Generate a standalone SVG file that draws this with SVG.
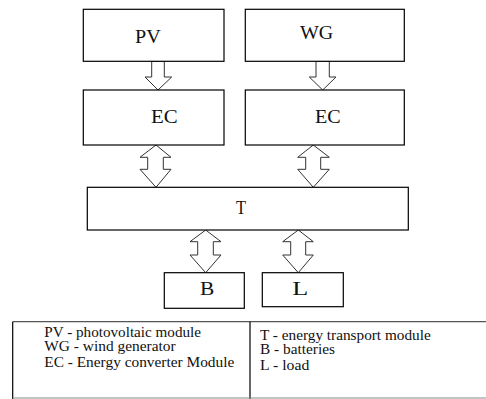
<svg xmlns="http://www.w3.org/2000/svg" width="486" height="399" viewBox="0 0 486 399">
<style>
.box{fill:#fff;stroke:#000;stroke-width:1.2}
.arr{fill:#fff;stroke:#333;stroke-width:1}
.lbl{font-family:"Liberation Serif","Times New Roman",serif;font-size:18px;fill:#111}
.leg{font-family:"Liberation Serif","Times New Roman",serif;font-size:14px;fill:#111}
</style>
<rect width="486" height="399" fill="#fff"/>
<g id="connectors">
<polygon class="arr" points="151.7,61.3 164.3,61.3 164.3,77 171.7,77 158,90 145,77 151.7,77"/>
<polygon class="arr" points="316,61.3 329.3,61.3 329.3,77 336,77 322.7,90 309.3,77 316,77"/>
<polygon class="arr" points="156,145 171,157.3 163.3,157.3 163.3,169.3 171,169.3 156,187.3 140,169.3 147.7,169.3 147.7,157.3 140,157.3"/>
<polygon class="arr" points="313.3,145 329.3,157.3 320.7,157.3 320.7,169.3 329.3,169.3 313.3,187.3 297.7,169.3 305.7,169.3 305.7,157.3 297.7,157.3"/>
<polygon class="arr" points="205.7,230 221,241.7 213.3,241.7 213.3,255 221,255 205.7,272.7 190,255 197.7,255 197.7,241.7 190,241.7"/>
<polygon class="arr" points="298.3,230 313.3,241.7 305.7,241.7 305.7,255 313.3,255 298.3,272.7 282.7,255 290.7,255 290.7,241.7 282.7,241.7"/>
</g>
<g id="PV"><rect class="box" x="83.3" y="9.3" width="140.7" height="52"/><text class="lbl" x="135" y="42.7" textLength="25.7" lengthAdjust="spacingAndGlyphs">PV</text></g>
<g id="WG"><rect class="box" x="245.3" y="9.3" width="159" height="52"/><text class="lbl" x="300" y="39.3" textLength="33.3" lengthAdjust="spacingAndGlyphs">WG</text></g>
<g id="EC1"><rect class="box" x="83.3" y="90" width="140.7" height="55"/><text class="lbl" x="151" y="122.7" textLength="26.7" lengthAdjust="spacingAndGlyphs">EC</text></g>
<g id="EC2"><rect class="box" x="245.3" y="90" width="159" height="55"/><text class="lbl" x="315" y="122.7" textLength="25.7" lengthAdjust="spacingAndGlyphs">EC</text></g>
<g id="T"><rect class="box" x="87.3" y="187.3" width="321" height="42.7"/><text class="lbl" x="236" y="214.3" textLength="10" lengthAdjust="spacingAndGlyphs">T</text></g>
<g id="B"><rect class="box" x="164.3" y="272.7" width="80" height="35.6"/><text class="lbl" x="200" y="295" textLength="14.3" lengthAdjust="spacingAndGlyphs">B</text></g>
<g id="L"><rect class="box" x="262.3" y="272.7" width="81" height="34"/><text class="lbl" x="292.3" y="295" textLength="16" lengthAdjust="spacingAndGlyphs">L</text></g>
<g id="legend">
<line x1="12.7" y1="321.7" x2="486" y2="321.7" stroke="#555" stroke-width="1.2"/>
<line x1="12.7" y1="321.7" x2="12.7" y2="399" stroke="#000" stroke-width="1.2"/>
<line x1="250" y1="321.7" x2="250" y2="399" stroke="#000" stroke-width="1.2"/>
<line x1="12.7" y1="398" x2="486" y2="398" stroke="#888" stroke-width="1"/>
<text class="leg" x="44.3" y="337" textLength="156.7" lengthAdjust="spacingAndGlyphs">PV - photovoltaic module</text>
<text class="leg" x="44.3" y="351.3" textLength="131.4" lengthAdjust="spacingAndGlyphs">WG - wind generator</text>
<text class="leg" x="44.3" y="367" textLength="190" lengthAdjust="spacingAndGlyphs">EC - Energy converter Module</text>
<text class="leg" x="260" y="340" textLength="170.7" lengthAdjust="spacingAndGlyphs">T - energy transport module</text>
<text class="leg" x="260" y="354.3" textLength="75" lengthAdjust="spacingAndGlyphs">B - batteries</text>
<text class="leg" x="260" y="370" textLength="49.3" lengthAdjust="spacingAndGlyphs">L - load</text>
</g>
</svg>
